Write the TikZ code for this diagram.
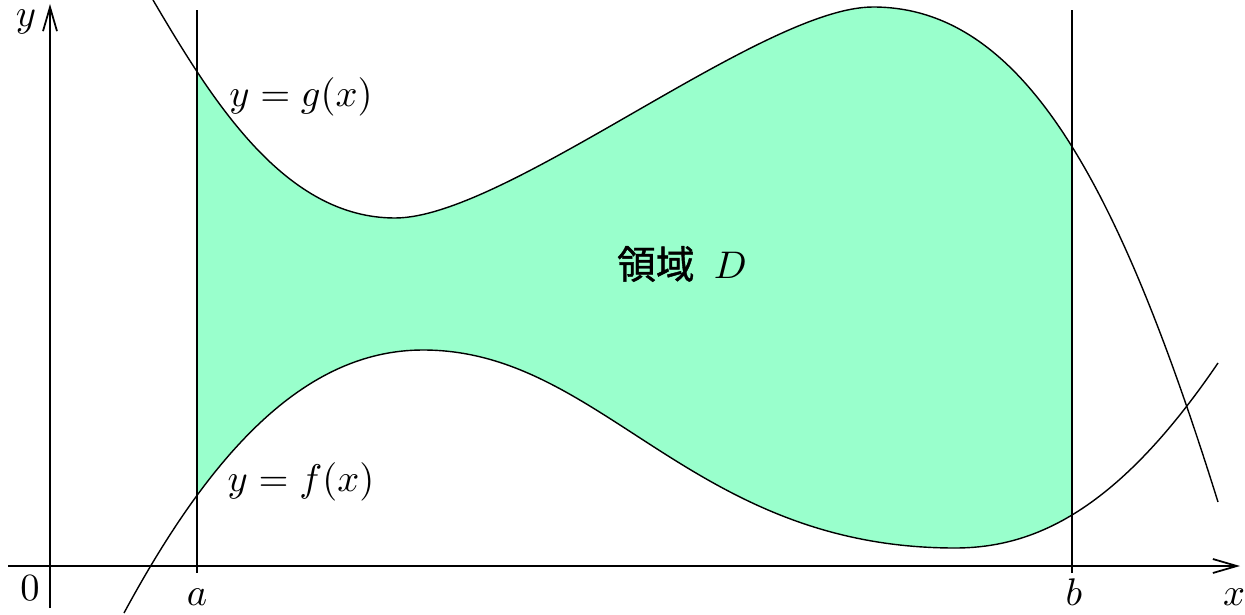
\documentclass[tikz,border=0pt]{standalone}
\usepackage{fontspec}
\newfontfamily\cjk[FakeBold=1]{Noto Sans CJK JP}
\usetikzlibrary{arrows.meta}
\definecolor{regionD}{RGB}{153,255,204}
\begin{document}
\begin{tikzpicture}[x=0.01cm,y=-0.01cm,
  font=\fontsize{11}{13}\selectfont,
  axis/.style={line width=0.5pt,-{Straight Barb[length=0.24cm,width=0.14cm,line width=0.5pt]}},
  bound/.style={line width=0.4pt},
  curve/.style={line width=0.4pt},
  lbl/.style={inner sep=0pt}]
\useasboundingbox (0,0) rectangle (1245,615);
% shaded region D
\begin{scope}
  \clip (197,0) rectangle (1072,615);
  \clip (153,0) .. controls (213,102) and (285,218) .. (395,218)
        .. controls (506,218) and (762,7) .. (873,7)
        .. controls (1023,7) and (1118,182) .. (1218,502)
        -- (1218,615) -- (153,615) -- cycle;
  \fill[regionD] (124,613) .. controls (209,455.75) and (303,350) .. (423,350)
        .. controls (603,350) and (690,548) .. (955,548)
        .. controls (1035,548) and (1118,510) .. (1218,363)
        -- (1218,0) -- (124,0) -- cycle;
\end{scope}
% axes
\coordinate (xs) at (8,566);
\coordinate (xe) at (1240,566);
\coordinate (ys) at (50,608);
\coordinate (ye) at (50,4);
\draw[axis] (xs) -- (xe);
\draw[axis] (ys) -- (ye);
% bounds x=a, x=b
\coordinate (at) at (197,10);
\coordinate (ab) at (197,573);
\coordinate (bt) at (1072,10);
\coordinate (bb) at (1072,573);
\draw[bound] (at) -- (ab);
\draw[bound] (bt) -- (bb);
% curves y=g(x) and y=f(x)
\draw[curve] (153,0) .. controls (213,102) and (285,218) .. (395,218)
        .. controls (506,218) and (762,7) .. (873,7)
        .. controls (1023,7) and (1118,182) .. (1218,502);
\draw[curve] (124,613) .. controls (209,455.75) and (303,350) .. (423,350)
        .. controls (603,350) and (690,548) .. (955,548)
        .. controls (1035,548) and (1118,510) .. (1218,363);
% labels
\node[lbl] (ylab) at (26,22) {$y$};
\node[lbl] (xlab) at (1234,597) {$x$};
\node[lbl] (olab) at (30,588) {$0$};
\node[lbl] (alab) at (197,597) {$a$};
\node[lbl] (blab) at (1074,592) {$b$};
\node[lbl] (glab) at (301,97) {$y=g(x)$};
\node[lbl] (flab) at (301,482) {$y=f(x)$};
\node[lbl] (dlab) at (682,264) {{\cjk 領域}\hspace{0.5em}$D$};
\end{tikzpicture}
\end{document}
